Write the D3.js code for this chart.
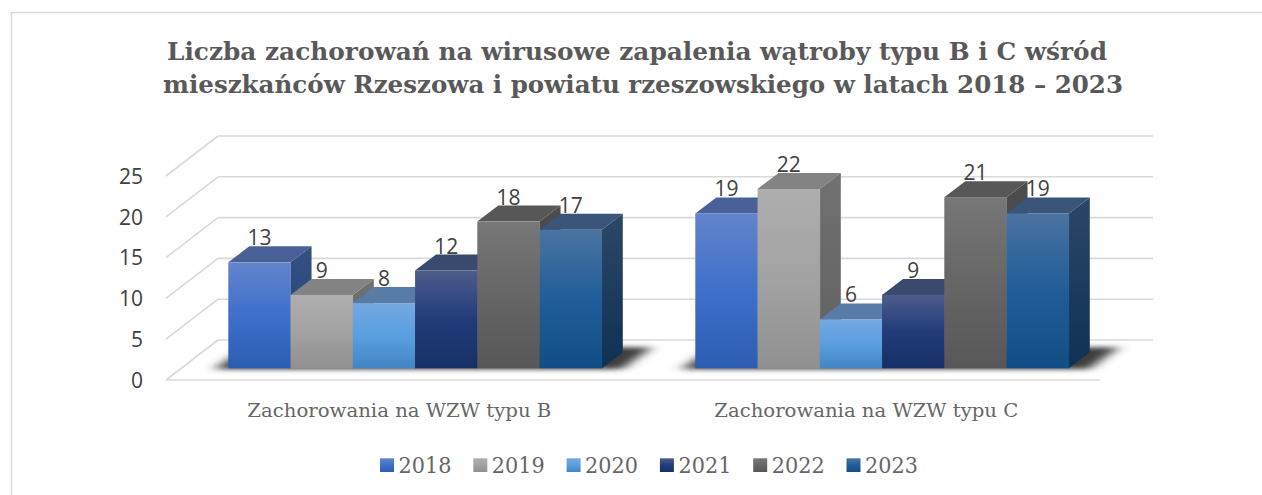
<!DOCTYPE html>
<html><head><meta charset="utf-8">
<style>html,body{margin:0;padding:0;background:#fff}svg{display:block}</style>
<script src="https://cdn.jsdelivr.net/npm/d3@7/dist/d3.min.js"></script>
</head><body><svg id="c" width="1262" height="495"></svg>
<script>
const titleLines = ["Liczba zachorowań na wirusowe zapalenia wątroby typu B i C wśród","mieszkańców Rzeszowa i powiatu rzeszowskiego w latach 2018 – 2023"];
const categories = ["Zachorowania na WZW typu B","Zachorowania na WZW typu C"];
const years = ["2018","2019","2020","2021","2022","2023"];
const valuesB = [13,9,8,12,18,17];
const valuesC = [19,22,6,9,21,19];
const yTicks = [0,5,10,15,20,25];
const frontStops = [["#6384cc","#3e6fcb","#2d5db2"],["#aeaeae","#a2a2a2","#909090"],["#74a8e1","#5a9fe0","#4185c4"],["#4d5c8c","#213c7a","#163066"],["#777777","#666666","#575757"],["#4b73a1","#205d99","#124e85"]];
const topColors = ["#4a6198","#838383","#587ca5","#3a4a6e","#575757","#3a5579"];
const sideStops = [["#33507f","#27447f"],["#717171","#606060"],["#4a6f99","#33618f"],["#2c3a60","#12254c"],["#4c4c4c","#424242"],["#2c4768","#0e3156"]];

const svg = d3.select("#c");
const defs = svg.append("defs");
const blur = defs.append("filter").attr("id","sh").attr("x","-10%").attr("y","-80%").attr("width","120%").attr("height","260%");
blur.append("feGaussianBlur").attr("stdDeviation","7 2.5");
years.forEach((y,i)=>{
  const g=defs.append("linearGradient").attr("id","f"+i).attr("x1",0).attr("x2",0).attr("y1",0).attr("y2",1);
  frontStops[i].forEach((c,k)=>g.append("stop").attr("offset",k/2).attr("stop-color",c));
  const s=defs.append("linearGradient").attr("id","s"+i).attr("x1",0).attr("x2",0).attr("y1",0).attr("y2",1);
  sideStops[i].forEach((c,k)=>s.append("stop").attr("offset",k).attr("stop-color",c));
});

// frame
svg.append("path").attr("d","M11.5,495V12.5H1262").attr("fill","none").attr("stroke","#d9d9d9").attr("stroke-width",1.6);

// title
const grid="#d9d9d9";
const tW=[{x:167,w:940,y:60},{x:163,w:960,y:93}];
svg.selectAll("text.title").data(titleLines).join("text").attr("class","title")
  .attr("x",(d,i)=>tW[i].x).attr("y",(d,i)=>tW[i].y).attr("textLength",(d,i)=>tW[i].w).attr("lengthAdjust","spacingAndGlyphs")
  .attr("font-family","'DejaVu Serif',serif").attr("font-weight","bold").attr("font-size",25).attr("fill","#595959").text(d=>d);

// scales
const yBack = d3.scaleLinear().domain([0,25]).range([340,136]);
const yFront = d3.scaleLinear().domain([0,25]).range([380,176]);
const yBar = d3.scaleLinear().domain([0,25]).range([368.3,164.55]);
const xGroup = d3.scaleOrdinal().domain(categories).range([228.3,695.3]);
const xBar = d3.scaleBand().domain(years).range([0,373.5]);
const dx=21, dy=16;

// walls
svg.append("g").selectAll("line").data(yTicks).join("line")
  .attr("x1",218).attr("x2",1153).attr("y1",d=>yBack(d)).attr("y2",d=>yBack(d)).attr("stroke",grid).attr("stroke-width",1.6);
svg.append("g").selectAll("line").data(yTicks).join("line")
  .attr("x1",166).attr("x2",218).attr("y1",d=>yFront(d)).attr("y2",d=>yBack(d)).attr("stroke",grid).attr("stroke-width",1.6);
svg.append("line").attr("x1",166).attr("x2",1100).attr("y1",yFront(0)).attr("y2",yFront(0)).attr("stroke",grid).attr("stroke-width",1.6);

// y axis labels
const ax = svg.append("g").attr("transform","translate(149,0.5)").call(d3.axisLeft(yFront).tickValues(yTicks).tickSize(0).tickPadding(6));
ax.select(".domain").remove();
ax.selectAll("text").attr("font-family","'Open Sans',sans-serif").attr("font-size",21).attr("fill","#404040");

// bars
const drawGroup=(cat,vals)=>{
  const x0=xGroup(cat), g=svg.append("g"), bw=xBar.bandwidth(), base=yBar(0);
  g.append("path").attr("filter","url(#sh)").attr("fill","#3c3c3c")
   .attr("d",d3.line()([[x0-14,base+1],[x0+373.5+20,base+1],[x0+373.5+50,base-21],[x0+18,base-21]])+"Z");
  vals.forEach((v,i)=>{
    const x=x0+xBar(years[i]), t=yBar(v);
    g.append("path").attr("fill",topColors[i]).attr("d",d3.line()([[x,t],[x+bw,t],[x+bw+dx,t-dy],[x+dx,t-dy]])+"Z");
    g.append("path").attr("fill",`url(#s${i})`).attr("d",d3.line()([[x+bw,t],[x+bw+dx,t-dy],[x+bw+dx,base-dy],[x+bw,base]])+"Z");
    g.append("rect").attr("x",x).attr("y",t).attr("width",bw+.3).attr("height",base-t).attr("fill",`url(#f${i})`);
  });
  vals.forEach((v,i)=>{
    g.append("text").attr("x",x0+xBar(years[i])+bw/2).attr("y",yBar(v)-17).attr("text-anchor","middle")
     .attr("font-family","'Open Sans',sans-serif").attr("font-size",21).attr("fill","#404040").text(v);
  });
  svg.append("text").attr("x",x0+171).attr("y",417).attr("text-anchor","middle").attr("textLength",304).attr("lengthAdjust","spacingAndGlyphs")
     .attr("font-family","'DejaVu Serif',serif").attr("font-size",19).attr("fill","#666").text(cat);
};
drawGroup(categories[0],valuesB);
drawGroup(categories[1],valuesC);

// legend
const xLeg=d3.scaleBand().domain(years).range([380,380+93.3*6]);
const lg=svg.append("g").selectAll("g").data(years).join("g").attr("transform",d=>`translate(${xLeg(d)},0)`);
lg.append("rect").attr("y",458.3).attr("width",14).attr("height",13.7).attr("fill",(d,i)=>`url(#f${i})`);
lg.append("text").attr("x",18.5).attr("y",472.5).attr("textLength",53).attr("lengthAdjust","spacingAndGlyphs").attr("font-family","'DejaVu Serif',serif").attr("font-size",22).attr("fill","#666").text(d=>d);
</script></body></html>
